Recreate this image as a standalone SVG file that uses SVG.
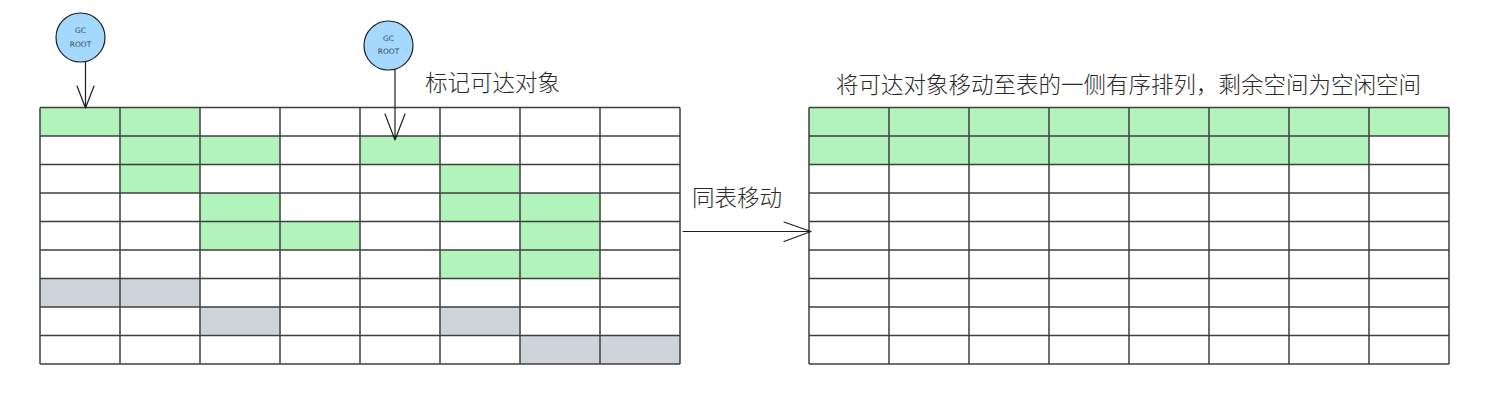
<svg xmlns="http://www.w3.org/2000/svg" xmlns:xlink="http://www.w3.org/1999/xlink" width="1510" height="402" viewBox="0 0 1510 402">
<style>
.bg{fill:#ffffff}
.g{fill:#b2f2bb}
.k{fill:#ced4da}
.grid{fill:none;stroke:#3f3f3f;stroke-width:1.5}
.root{fill:#a5d8ff;stroke:#1e1e1e;stroke-width:1.2}
.rt{font-family:"DejaVu Sans","Liberation Sans",sans-serif;font-size:7.5px;fill:#3a4a5a;text-anchor:middle}
.lbl{font-family:"Noto Sans CJK SC","Noto Sans",sans-serif;font-weight:300;font-size:22.5px;fill:#2a2a2a}
.ln{fill:none;stroke:#1e1e1e;stroke-width:1.2;stroke-linecap:round;stroke-linejoin:round}
</style>
<defs>
<path id="gridlines" class="grid" d="M40 107.5H680M40 136H680M40 164.5H680M40 193H680M40 221.5H680M40 250H680M40 278.5H680M40 307H680M40 335.5H680M40 364H680M40 107.5V364M120 107.5V364M200 107.5V364M280 107.5V364M360 107.5V364M440 107.5V364M520 107.5V364M600 107.5V364M680 107.5V364"/>
</defs>
<rect class="bg" x="0" y="0" width="1510" height="402"/>

<g id="left-heap">
<rect class="g" x="40" y="107.5" width="160" height="28.5"/>
<rect class="g" x="120" y="136" width="160" height="28.5"/>
<rect class="g" x="360" y="136" width="80" height="28.5"/>
<rect class="g" x="120" y="164.5" width="80" height="28.5"/>
<rect class="g" x="440" y="164.5" width="80" height="28.5"/>
<rect class="g" x="200" y="193" width="80" height="28.5"/>
<rect class="g" x="440" y="193" width="160" height="28.5"/>
<rect class="g" x="200" y="221.5" width="160" height="28.5"/>
<rect class="g" x="520" y="221.5" width="80" height="28.5"/>
<rect class="g" x="440" y="250" width="160" height="28.5"/>
<rect class="k" x="40" y="278.5" width="160" height="28.5"/>
<rect class="k" x="200" y="307" width="80" height="28.5"/>
<rect class="k" x="440" y="307" width="80" height="28.5"/>
<rect class="k" x="520" y="335.5" width="160" height="28.5"/>
<use xlink:href="#gridlines"/>
</g>

<g id="right-heap">
<rect class="g" x="809" y="107.5" width="640" height="28.5"/>
<rect class="g" x="809" y="136" width="560" height="28.5"/>
<use xlink:href="#gridlines" transform="translate(769 0)"/>
</g>

<g id="gc-root-1">
<circle class="root" cx="80.5" cy="37.5" r="24.5"/>
<text class="rt" x="80.5" y="33">GC</text>
<text class="rt" x="80.5" y="47">ROOT</text>
</g>

<g id="gc-root-2">
<circle class="root" cx="388.5" cy="45.5" r="24.5"/>
<text class="rt" x="388.5" y="40.5">GC</text>
<text class="rt" x="388.5" y="54">ROOT</text>
</g>

<g id="label-mark">
<text class="lbl" x="425" y="91">标记可达对象</text>
</g>

<g id="label-move">
<text class="lbl" x="692" y="206">同表移动</text>
</g>

<g id="label-result">
<text class="lbl" x="836" y="93">将可达对象移动至表的一侧有序排列，剩余空间为空闲空间</text>
</g>

<g id="connectors">
<path class="ln" d="M85.5 62V108M77 86L85.5 108L94 86"/>
<path class="ln" d="M395 70V140M385 114L395 140L405 114"/>
<path class="ln" d="M683 231.5H811M784 222L811 231.5L784 241.5"/>
</g>
</svg>
